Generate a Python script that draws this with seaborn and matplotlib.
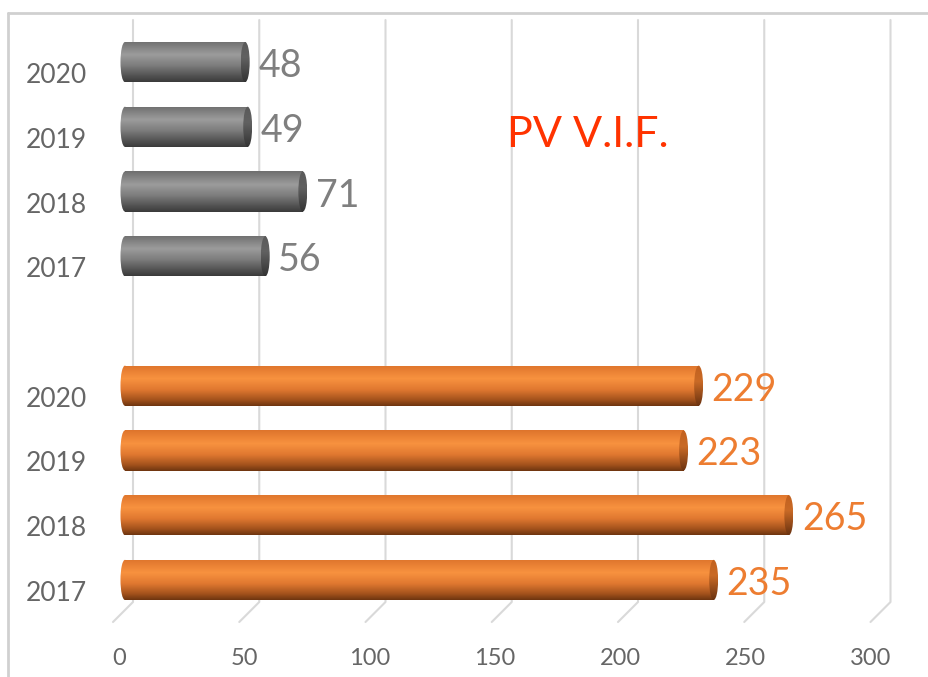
import numpy as np
import pandas as pd
import matplotlib
matplotlib.use("Agg")
import matplotlib.pyplot as plt
import seaborn as sns
from matplotlib.patches import Ellipse
from matplotlib.lines import Line2D
from matplotlib.colors import to_rgb

# ---- data -------------------------------------------------------------
years = ["2017", "2018", "2019", "2020"]
orange_values = [235, 265, 223, 229]
gray_values = [56, 71, 49, 48]
x_ticks = [0, 50, 100, 150, 200, 250, 300]
title = "PV V.I.F."

# ---- style ------------------------------------------------------------
sns.set_theme(style="white")
plt.rcParams["font.family"] = ["Lato", "DejaVu Sans"]

W, H = 929, 677
fig = plt.figure(figsize=(W / 100, H / 100), dpi=100)
fig.patch.set_facecolor("white")

# plot box in pixels
ax_l, ax_r, ax_t, ax_b = 119, 876.5, 20, 622
ax = fig.add_axes([ax_l / W, 1 - ax_b / H, (ax_r - ax_l) / W, (ax_b - ax_t) / H])
ax.set_facecolor("none")

x_max = x_ticks[-1]
ppu = (ax_r - ax_l) / x_max  # pixels per data unit

# two groups of four bars with an empty slot between them
orange_pos = list(range(len(years)))
gray_pos = [p + len(years) + 1 for p in orange_pos]
df = pd.DataFrame({
    "value": orange_values + gray_values,
    "pos": orange_pos + gray_pos,
    "group": ["orange"] * len(years) + ["gray"] * len(years),
})

palette = {"orange": "#ED7D31", "gray": "#7F7F7F"}
sns.barplot(data=df, x="value", y="pos", hue="group", palette=palette,
            orient="y", native_scale=True, width=0.62, dodge=False,
            legend=False, ax=ax, zorder=3)

# cylinder-like shading: (fraction from top, colour)
shades = {
    "orange": {
        "body": [(0.0, "#DE742C"), (0.33, "#F8923F"), (0.6, "#E07830"),
                 (0.85, "#A3521C"), (1.0, "#6E3510")],
        "cap": [(0.0, "#C2611F"), (0.4, "#C96A26"), (1.0, "#6A3210")],
    },
    "gray": {
        "body": [(0.0, "#6E6E6E"), (0.33, "#9C9C9C"), (0.6, "#7C7C7C"),
                 (0.85, "#525252"), (1.0, "#3A3A3A")],
        "cap": [(0.0, "#5A5A5A"), (0.4, "#616161"), (1.0, "#333333")],
    },
}


def gradient(stops, n=120):
    t = np.linspace(0, 1, n)
    fr = [s[0] for s in stops]
    cols = np.array([to_rgb(s[1]) for s in stops])
    rgb = np.stack([np.interp(t, fr, cols[:, k]) for k in range(3)], axis=-1)
    return rgb[:, None, :]


ew = 9 / ppu  # ellipse width of cylinder ends, in data units
for p in list(ax.patches):
    x0, y0, w, h = p.get_x(), p.get_y(), p.get_width(), p.get_height()
    if h == 0:
        continue
    yc = y0 + h / 2
    grp = "gray" if yc > len(years) else "orange"
    p.set_facecolor("none")
    p.set_edgecolor("none")
    body = gradient(shades[grp]["body"])
    cap = gradient(shades[grp]["cap"])

    im = ax.imshow(body, extent=(x0, x0 + w, y0, y0 + h), aspect="auto",
                   origin="upper", zorder=3, interpolation="bilinear")
    im.set_clip_path(p)

    left = Ellipse((x0, yc), ew, h, transform=ax.transData,
                   facecolor="none", edgecolor="none")
    ax.add_patch(left)
    im = ax.imshow(body, extent=(x0 - ew / 2, x0 + ew / 2, y0, y0 + h),
                   aspect="auto", origin="upper", zorder=3,
                   interpolation="bilinear")
    im.set_clip_path(left)

    right = Ellipse((x0 + w, yc), ew, h, transform=ax.transData,
                    facecolor="none", edgecolor="none")
    ax.add_patch(right)
    im = ax.imshow(cap, extent=(x0 + w - ew / 2, x0 + w + ew / 2, y0, y0 + h),
                   aspect="auto", origin="upper", zorder=4,
                   interpolation="bilinear")
    im.set_clip_path(right)

ax.set_xlim(0, x_max)
ax.set_ylim(-0.65, gray_pos[-1] + 0.65)

# value labels
for vals, pos, col in [(orange_values, orange_pos, "#ED7D31"),
                       (gray_values, gray_pos, "#7F7F7F")]:
    for v, y in zip(vals, pos):
        ax.annotate(str(v), xy=(v, y), xytext=(13, -4),
                    textcoords="offset pixels", ha="left", va="center",
                    fontsize=27, color=col, zorder=5)

# category labels (sit slightly lower, as on a 3-D floor)
ax.set_yticks([y - 11 / 64.75 for y in orange_pos + gray_pos])
ax.set_yticklabels(years + years)
ax.tick_params(axis="y", length=0, pad=23, labelsize=19, labelcolor="#666666")

# value axis labels sit at the front edge of the floor
ax.set_xticks([t - 6 / ppu for t in x_ticks])
ax.set_xticklabels([str(t) for t in x_ticks])
ax.tick_params(axis="x", length=0, pad=19, labelsize=17, labelcolor="#666666")

for s in ax.spines.values():
    s.set_visible(False)
ax.set_xlabel("")
ax.set_ylabel("")

# back-wall gridlines with a slanted floor segment
grid_col = "#D9D9D9"
for t in x_ticks:
    bx = ax_l + t * ppu + 14
    xs = [bx, bx, bx - 20]
    ys = [ax_t, 602, ax_b]
    fig.add_artist(Line2D([x / W for x in xs], [1 - y / H for y in ys],
                          transform=fig.transFigure, color=grid_col,
                          lw=1.5, zorder=-1))

# outer frame
fig.add_artist(Line2D([8 / W, 1.0], [1 - 13 / H, 1 - 13 / H],
                      transform=fig.transFigure, color="#D0D0D0", lw=2, zorder=-1))
fig.add_artist(Line2D([8 / W, 8 / W], [1 - 13 / H, 0.0],
                      transform=fig.transFigure, color="#D0D0D0", lw=2, zorder=-1))

fig.text(588 / W, 1 - 135 / H, title, ha="center", va="center",
         fontsize=31, color="#FF3300")

fig.savefig("out.png", dpi=100, facecolor="white")
